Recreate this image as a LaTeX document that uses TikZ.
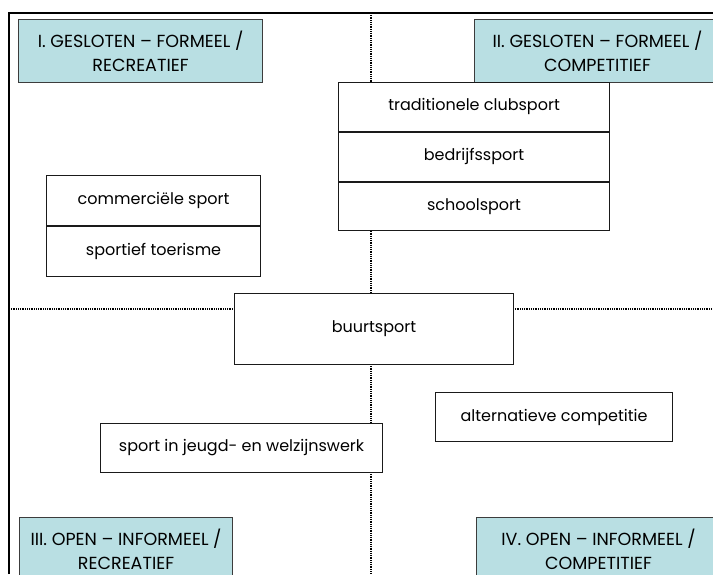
\documentclass[tikz,border=0pt]{standalone}
\usepackage{fontspec}
\setmainfont{Poppins}
\usetikzlibrary{positioning}
\definecolor{ink}{HTML}{000000}
\definecolor{boxline}{HTML}{1A1A1A}
\definecolor{hdrbg}{HTML}{B9DFE3}
\definecolor{hdrline}{HTML}{3C3C3C}
\tikzset{
  frameLine/.style={draw=ink, line width=1.6pt},
  axisLine/.style={draw=ink, line width=1.5pt, dash pattern=on 0.9pt off 0.9pt},
  hdrBox/.style={draw=hdrline, fill=hdrbg, line width=1.1pt, align=center, inner sep=0pt,
    font=\fontsize{17.5}{24}\selectfont, anchor=north west, minimum height=63},
  itemBox/.style={draw=boxline, fill=white, line width=1.1pt, align=center, inner sep=0pt,
    font=\fontsize{16}{18}\selectfont},
  stackR/.style={itemBox, minimum width=271, minimum height=48.7},
  stackL/.style={itemBox, minimum width=214, minimum height=50},
}

\begin{document}
\begin{tikzpicture}[x=1pt, y=-1pt]
  \clip (0,0) rectangle (713,574);
  \fill[white] (0,0) rectangle (713,574);

  \coordinate (tl) at (9,13);
  \coordinate (tr) at (713,13);
  \coordinate (bl) at (9,574);
  \coordinate (vt) at (371,13);
  \coordinate (vb) at (371,574);
  \coordinate (hl) at (9,309);
  \coordinate (hr) at (713,309);

  \draw[axisLine] (vt) -- (vb);
  \draw[axisLine] (hl) -- (hr);
  \draw[frameLine] (bl) -- (tl) -- (tr);

  \node[hdrBox, minimum width=244] (q1) at (18,19) {I. GESLOTEN – FORMEEL /\\RECREATIEF};
  \node[hdrBox, minimum width=246] (q2) at (474,19) {II. GESLOTEN – FORMEEL /\\COMPETITIEF};
  \node[hdrBox, minimum width=213] (q3) at (19,517) {III. OPEN – INFORMEEL /\\RECREATIEF};
  \node[hdrBox, minimum width=244] (q4) at (476,517) {IV. OPEN – INFORMEEL /\\COMPETITIEF};

  \node[stackR, anchor=north west] (club) at (338,82) {traditionele clubsport};
  \node[stackR, below=0pt of club] (bedrijf) {bedrijfssport};
  \node[stackR, below=0pt of bedrijf] (school) {schoolsport};

  \node[stackL, anchor=north west] (commerc) at (46,175) {commerciële sport};
  \node[stackL, below=0pt of commerc] (toerisme) {sportief toerisme};

  \node[itemBox, minimum width=279, minimum height=71, anchor=north west] (buurt) at (234,293) {buurtsport};
  \node[itemBox, minimum width=237, minimum height=49, anchor=north west] (altcomp) at (435,392) {alternatieve competitie};
  \node[itemBox, minimum width=282, minimum height=49, anchor=north west] (jeugd) at (100,423) {sport in jeugd- en welzijnswerk};
\end{tikzpicture}
\end{document}
